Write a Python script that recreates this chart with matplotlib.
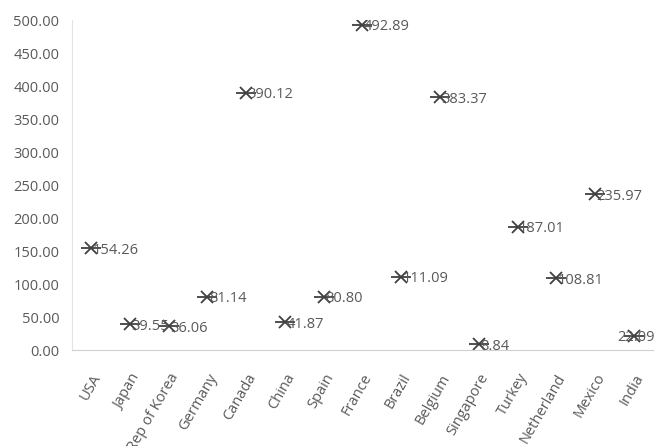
import matplotlib.pyplot as plt

plt.rcParams['font.family'] = ['Open Sans', 'DejaVu Sans']

countries = ['USA', 'Japan', 'Rep of Korea', 'Germany', 'Canada', 'China', 'Spain',
             'France', 'Brazil', 'Belgium', 'Singapore', 'Turkey', 'Netherland',
             'Mexico', 'India']
values = [154.26, 39.55, 36.06, 81.14, 390.12, 41.87, 80.80,
          492.89, 111.09, 383.37, 8.84, 187.01, 108.81,
          235.97, 22.09]

txt = '#595959'
mk = '#404040'
fs = 10.5

fig = plt.figure(figsize=(6.7, 4.46), dpi=100)
ax = fig.add_axes([0.107, 0.215, 0.868, 0.74])

x = list(range(len(countries)))
# Excel-style marker: an X with a short dash through it
ax.plot(x, values, linestyle='none', marker='x', markersize=9, mew=1.3, color=mk)
ax.plot(x, values, linestyle='none', marker='_', markersize=14, mew=1.3, color=mk)

for i, v in enumerate(values):
    # last label is pulled left so it stays inside the figure
    dx = -12 if i == len(values) - 1 else 1
    ax.annotate(f'{v:.2f}', (i, v), xytext=(dx, -1.5), textcoords='offset points',
                ha='left', va='center', fontsize=fs, color=txt)

ax.set_xlim(-0.5, len(countries) - 0.5)
ax.set_ylim(0, 500)
ax.set_yticks(range(0, 501, 50))
ax.set_yticklabels([f'{t:.2f}' for t in range(0, 501, 50)], fontsize=fs, color=txt)
ax.set_xticks(x)
ax.set_xticklabels(countries, rotation=60, ha='right', rotation_mode='anchor',
                   fontsize=fs, color=txt)
ax.tick_params(length=0)
ax.tick_params(axis='y', pad=9)
ax.tick_params(axis='x', pad=15)
for lbl in ax.get_xticklabels():
    lbl.set_x(lbl.get_position()[0])

for s in ['top', 'right']:
    ax.spines[s].set_visible(False)
ax.spines['left'].set_color('#e3e3e3')
ax.spines['bottom'].set_color('#d0d0d0')

fig.savefig('out.png', dpi=100)
